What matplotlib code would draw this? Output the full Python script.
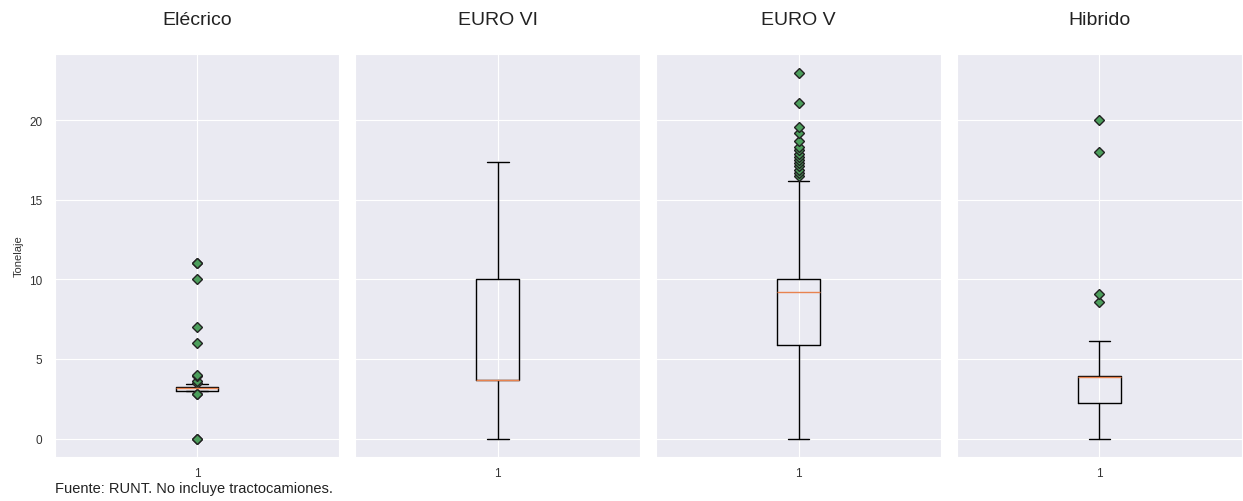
import matplotlib
matplotlib.use("Agg")
import matplotlib.pyplot as plt
import seaborn as sns

# Estadisticos (toneladas)
categorias = ["Elécrico", "EURO VI", "EURO V", "Hibrido"]
q1 = [3.0, 3.7, 5.85, 2.25]
mediana = [3.15, 3.7, 9.2, 3.85]
q3 = [3.25, 10.0, 10.0, 3.9]
bigote_inf = [3.0, 0.0, 0.0, 0.0]
bigote_sup = [3.4, 17.4, 16.2, 6.1]
atipicos = [
    [0, 0, 2.8, 2.8, 3.5, 3.6, 3.9, 4.0, 6, 7, 10, 11, 11],
    [],
    [16.5, 16.7, 16.9, 17.1, 17.3, 17.5, 17.7, 17.9, 18.1, 18.3, 18.7, 19.2, 19.6, 21.1, 23.0],
    [8.55, 9.1, 18.0, 20.0],
]
yticks = [0, 5, 10, 15, 20]

sns.set_style("darkgrid")
plt.rcParams["font.family"] = ["Liberation Sans", "DejaVu Sans"]

fig, axes = plt.subplots(1, 4, figsize=(12.43, 5.02), dpi=100, sharey=True)
fig.subplots_adjust(left=0.044, right=0.999, top=0.89, bottom=0.088, wspace=0.056)

flier_style = dict(marker="D", markerfacecolor="#4c9e5c", markeredgecolor="#222222",
                   markersize=5.5, markeredgewidth=1.0)

for i, ax in enumerate(axes):
    stats = [{
        "med": mediana[i], "q1": q1[i], "q3": q3[i],
        "whislo": bigote_inf[i], "whishi": bigote_sup[i],
        "fliers": atipicos[i], "label": "1",
    }]
    ax.bxp(stats, showfliers=True, flierprops=flier_style,
           boxprops=dict(color="black", linewidth=1.0),
           whiskerprops=dict(color="black", linewidth=1.0),
           capprops=dict(color="black", linewidth=1.0),
           medianprops=dict(color="#e8834f", linewidth=1.0))
    ax.set_title(categorias[i], fontsize=14, pad=22, color="#222222")
    ax.tick_params(axis="y", labelsize=8.5, colors="#333333", length=0, pad=9)
    ax.tick_params(axis="x", labelsize=8.5, colors="#333333", length=0, pad=7)
    ax.set_yticks(yticks)
    ax.set_ylim(-1.15, 24.15)

axes[0].set_ylabel("Tonelaje", fontsize=8, color="#333333", labelpad=4)
fig.text(0.044, 0.025, "Fuente: RUNT. No incluye tractocamiones.", fontsize=10.5,
         color="#222222", ha="left", va="center")

fig.savefig("out.png", dpi=100)
